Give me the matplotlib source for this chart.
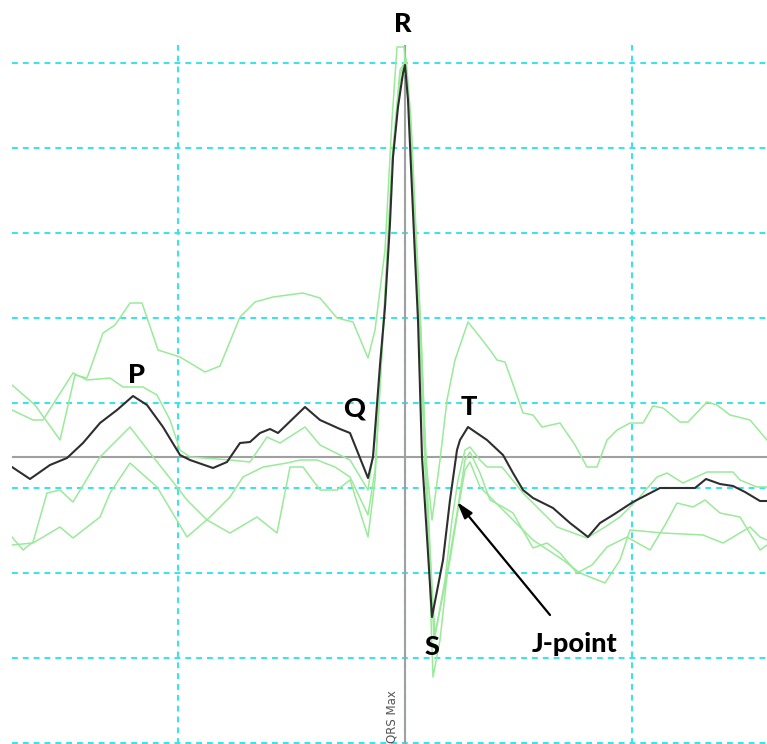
import numpy as np
import matplotlib
matplotlib.use("Agg")
import matplotlib.pyplot as plt

# time (ms, relative to QRS max) and amplitude (uV) of the median beat
t_median = [-393, -375, -355, -338, -322, -305, -288, -272, -258, -242, -225, -215, -192, -178,
            -165, -155, -145, -135, -127, -100, -85, -65, -55, -37, -32, -25, -20, -15, -12, -7,
            -2, 0, 3, 7, 10, 13, 17, 27, 38, 45, 52, 55, 63, 82, 98, 108, 118, 128, 148, 165,
            183, 195, 208, 228, 255, 290, 301, 315, 328, 340, 355, 362]
v_median = [-30, -66, -24, -3, 42, 102, 141, 183, 156, 90, 6, -9, -33, -15,
            42, 45, 72, 84, 72, 150, 111, 84, 72, -63, 0, 276, 450, 702, 900, 1050,
            1152, 1176, 1071, 801, 600, 411, 0, -480, -309, -129, 21, 51, 90, 51, 6, -48, -99, -123, -153, -198,
            -240, -198, -174, -135, -93, -93, -66, -81, -87, -105, -132, -132]

# individual beats
t_beat1 = [-393, -370, -345, -330, -318, -302, -290, -275, -263, -247, -225, -200, -185, -165, -150,
           -132, -102, -85, -68, -52, -37, -30, -20, -13, -8, -1, 5, 13, 20, 27, 35, 42, 50, 63,
           75, 85, 92, 100, 110, 118, 128, 137, 155, 170, 182, 192, 202, 212, 225, 238, 248, 258,
           275, 283, 302, 312, 325, 345, 362]
v_beat1 = [216, 156, 51, 246, 237, 372, 396, 462, 462, 321, 300, 255, 273, 420, 465,
           480, 492, 477, 417, 405, 297, 381, 621, 1011, 1230, 1230, 1011, 471, 21, -189, -9, 171, 291, 405,
           360, 321, 291, 285, 201, 132, 126, 90, 102, 36, -30, -30, 51, 81, 102, 102, 153, 147,
           105, 105, 165, 156, 126, 111, 51]

t_beat2 = [-393, -372, -362, -332, -318, -295, -282, -262, -248, -235, -225, -215, -175, -155, -138,
           -125, -100, -85, -55, -37, -30, -20, -12, -5, 0, 5, 10, 15, 20, 30, 40, 47, 53, 60, 65,
           75, 82, 97, 118, 152, 182, 200, 215, 232, 252, 262, 278, 302, 328, 335, 352, 362]
v_beat2 = [141, 111, 111, 252, 231, 237, 210, 210, 186, 111, 21, 0, -9, -15, 60,
           42, 90, 36, -9, -99, 51, 471, 921, 1161, 1185, 1011, 711, 381, -39, -534, -369, -189, -69, 21, 30,
           -9, -30, -30, -108, -210, -243, -210, -180, -129, -60, -48, -78, -45, -45, -69, -90, -90]

t_beat3 = [-393, -382, -372, -358, -345, -332, -305, -275, -255, -228, -218, -198, -175, -148, -128,
           -115, -102, -85, -68, -55, -37, -30, -22, -13, -5, 1, 6, 11, 16, 22, 28, 35, 43, 52, 60,
           65, 75, 85, 98, 108, 128, 142, 155, 172, 187, 202, 222, 245, 260, 272, 288, 300, 315,
           335, 355, 362]
v_beat3 = [-240, -279, -255, -108, -99, -135, 0, 90, 12, -90, -129, -189, -228, -180, -228,
           -30, -30, -99, -99, -69, -240, -69, 381, 891, 1146, 1197, 1011, 681, 381, -129, -660, -549, -330, -168, -9,
           15, -48, -129, -150, -168, -273, -258, -288, -348, -324, -270, -240, -279, -204, -138, -150, -129, -168,
           -180, -279, -264]

t_beat4 = [-393, -372, -345, -332, -305, -295, -275, -248, -218, -195, -175, -162, -142, -118, -105,
           -88, -70, -55, -37, -30, -21, -13, -5, 1, 6, 11, 16, 22, 29, 37, 45, 53, 60, 65, 75, 95,
           128, 158, 175, 200, 215, 225, 258, 298, 318, 345, 355, 362]
v_beat4 = [-264, -258, -210, -243, -180, -108, -18, -90, -240, -180, -120, -60, -30, -18, -9,
           -9, -30, -60, -174, -39, 411, 861, 1131, 1155, 981, 651, 351, -69, -549, -429, -309, -159, -39, -15, -90, -150,
           -249, -309, -348, -378, -309, -219, -228, -234, -258, -210, -240, -249]

# grid
x_grid = [-227, 0, 227]
y_grid = [1182, 927, 672, 417, 162, -93, -348, -603, -858]

# wave labels: text, t, v
labels = [("R", -2, 1299), ("P", -269, 246), ("Q", -51, 147),
          ("T", 64, 150), ("S", 27, -570), ("J-point", 170, -561)]
jpoint_head = (52, -135)
jpoint_tail = (145, -474)

W, H = 767, 744
fig = plt.figure(figsize=(W / 100, H / 100), dpi=100)
ax = fig.add_axes([12 / W, 0, (W - 12) / W, (H - 45) / H])
ax.set_xlim(-393, 362)
ax.set_ylim(-861, 1236)
ax.axis("off")

grid_col = "#3ee2ea"
for yg in y_grid:
    ax.axhline(yg, color=grid_col, lw=1.5, dashes=(2.8, 2.4), zorder=1)
for xg in x_grid:
    ax.axvline(xg, color=grid_col, lw=1.5, dashes=(2.8, 2.4), zorder=1)

ax.axhline(0, color="#a0a0a0", lw=1.5, zorder=2)
ax.axvline(0, color="#a0a0a0", lw=1.5, zorder=2)

green = "#9aea9a"
for tb, vb in [(t_beat1, v_beat1), (t_beat2, v_beat2), (t_beat3, v_beat3), (t_beat4, v_beat4)]:
    ax.plot(tb, vb, color=green, lw=1.1, zorder=3)

ax.plot(t_median, v_median, color="#2e2e2e", lw=1.5, zorder=4)

for txt, tx, vy in labels:
    ax.text(tx, vy, txt, fontsize=19.5, fontweight=900, family=["Lato", "DejaVu Sans"],
            ha="center", va="center", color="black", zorder=5)

ax.annotate("", xy=jpoint_head, xytext=jpoint_tail,
            arrowprops=dict(arrowstyle="-|>,head_length=1.0,head_width=0.3",
                            color="black", lw=1.6, shrinkA=0, shrinkB=0), zorder=5)

ax.text(-13, -699, "QRS Max", rotation=90, fontsize=8.5, color="#555555",
        ha="center", va="top", zorder=5)

fig.savefig("out.png", dpi=100)
